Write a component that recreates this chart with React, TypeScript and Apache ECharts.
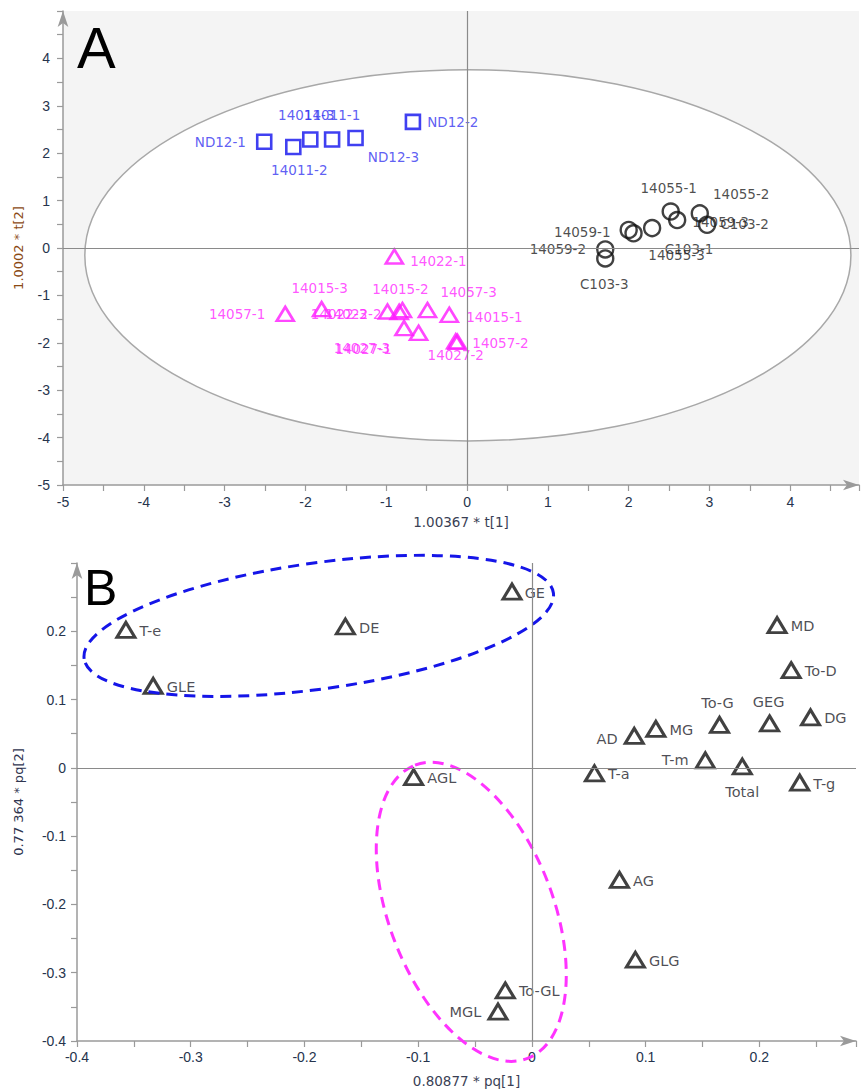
import React, { useEffect, useRef } from 'react';
import * as echarts from 'echarts';

// ---------- Panel A : score plot ----------
const sqNames = ['ND12-1', '14011-2', '14011-3', '14011-1', 'ND12-3', 'ND12-2'];
const sqX = [-2.51, -2.15, -1.94, -1.67, -1.38, -0.67];
const sqY = [2.24, 2.13, 2.29, 2.29, 2.32, 2.66];

const triANames = ['14057-1', '14015-3', '14022-2', '14022-3', '14015-2', '14057-3', '14015-1', '14027-3', '14027-1', '14057-2', '14027-2', '14022-1'];
const triAX = [-2.25, -1.8, -0.985, -0.84, -0.8, -0.49, -0.22, -0.78, -0.6, -0.12, -0.14, -0.9];
const triAY = [-1.39, -1.29, -1.34, -1.35, -1.31, -1.31, -1.41, -1.69, -1.79, -1.98, -1.97, -0.18];

const circNames = ['C103-3', '14059-2', '14059-1', '14055-3', 'C103-1', '14055-1', '14059-3', '14055-2', 'C103-2'];
const circX = [1.71, 1.71, 2.0, 2.06, 2.29, 2.52, 2.6, 2.88, 2.97];
const circY = [-0.22, -0.03, 0.38, 0.31, 0.42, 0.77, 0.59, 0.73, 0.49];

const axisAX = { min: -5, max: 4.85, interval: 1, name: '1.00367 * t[1]' };
const axisAY = { min: -5, max: 5, interval: 1, name: '1.0002 * t[2]' };
// confidence ellipse (data units)
const ellipseA = { cx: 0.01, cy: -0.155, rx: 4.74, ry: 3.915 };

// ---------- Panel B : loading plot ----------
const loadNames = ['T-e', 'GLE', 'DE', 'GE', 'MD', 'To-D', 'DG', 'GEG', 'To-G', 'MG', 'AD', 'T-m', 'Total', 'T-a', 'T-g', 'AGL', 'AG', 'GLG', 'To-GL', 'MGL'];
const loadX = [-0.357, -0.333, -0.164, -0.0175, 0.2156, 0.228, 0.245, 0.209, 0.165, 0.109, 0.09, 0.1525, 0.185, 0.055, 0.2355, -0.104, 0.077, 0.091, -0.0234, -0.0298];
const loadY = [0.202, 0.12, 0.207, 0.258, 0.209, 0.143, 0.074, 0.065, 0.063, 0.057, 0.047, 0.011, 0.002, -0.008, -0.0215, -0.0136, -0.164, -0.281, -0.326, -0.357];

const axisBX = { min: -0.4, max: 0.285, interval: 0.1, name: '0.80877 * pq[1]' };
const axisBY = { min: -0.4, max: 0.3, interval: 0.1, name: '0.77 364 * pq[2]' };
// group ellipses: centres in data units
const blueCenter = [-0.1874, 0.2079];
const pinkCenter = [-0.0533, -0.2108];

// ---------- label placement (style) ----------
type Place = [string, number, number, number];
const place: Record<string, Place> = {
  'ND12-1': ['left', 10, 0, 0],
  '14011-2': ['bottom', 8, 6, 0],
  '14011-3': ['top', 9, -4, 0],
  '14011-1': ['top', 9, 0, 0],
  'ND12-3': ['right', 4, 0, 19],
  'ND12-2': ['right', 6, 0, 0],
  '14057-1': ['left', 10, 0, 0],
  '14015-3': ['top', 6, -2, 0],
  '14022-2': ['left', 0, 4, 2],
  '14022-3': ['left', 22, 0, 2],
  '14015-2': ['top', 6, -2, 0],
  '14057-3': ['right', 3, 0, -18],
  '14015-1': ['right', 7, 0, 2],
  '14027-3': ['left', 4, 0, 20],
  '14027-1': ['left', 17, 0, 16],
  '14057-2': ['right', 5, 0, 1],
  '14027-2': ['bottom', -2, 0, 0],
  '14022-1': ['right', 6, 0, 4],
  'C103-3': ['bottom', 9, -1, 0],
  '14059-2': ['left', 10, 0, 0],
  '14059-1': ['left', 9, 0, 2],
  '14055-3': ['bottom', 5, 43, 0],
  'C103-1': ['bottom', 5, 37, 0],
  '14055-1': ['top', 7, -2, 0],
  '14059-3': ['right', 6, 0, 2],
  '14055-2': ['right', 4, 0, -19],
  'C103-2': ['right', 4, 0, -1],
  'T-e': ['right', 3, 0, 1],
  'GLE': ['right', 3, 0, 1],
  'DE': ['right', 3, 0, 1],
  'GE': ['right', 2, 0, 1],
  'MD': ['right', 3, 0, 1],
  'To-D': ['right', 3, 0, 1],
  'DG': ['right', 3, 0, 1],
  'GEG': ['top', 5, -1, 0],
  'To-G': ['top', 5, -2, 0],
  'MG': ['right', 3, 0, 1],
  'AD': ['left', 6, 0, 3],
  'T-m': ['left', 6, 0, 0],
  'Total': ['bottom', 9, 0, 0],
  'T-a': ['right', 3, 0, 1],
  'T-g': ['right', 3, 0, 1],
  'AGL': ['right', 3, 0, 1],
  'AG': ['right', 3, 0, 1],
  'GLG': ['right', 3, 0, 1],
  'To-GL': ['right', 3, 0, 1],
  'MGL': ['left', 6, 0, 0],
};

const build = (names: string[], xs: number[], ys: number[]) =>
  names.map((n, i) => {
    const p = place[n];
    return {
      name: n,
      value: [xs[i], ys[i]],
      label: p ? { position: p[0], distance: p[1], offset: [p[2], p[3]] } : undefined,
    };
  });

const FONT = 'DejaVu Sans';
const axisGray = '#9a9a9a';
const tickColor = '#26344d';

function makeAxis(cfg: any, gridIndex: number, extra: any) {
  return {
    type: 'value',
    gridIndex,
    min: cfg.min,
    max: cfg.max,
    interval: cfg.interval,
    name: cfg.name,
    nameLocation: 'middle',
    axisLine: {
      show: true,
      onZero: false,
      symbol: ['none', 'arrow'],
      symbolSize: [8, 16],
      lineStyle: { color: axisGray, width: 1.5 },
    },
    axisTick: { show: true, length: 6, lineStyle: { color: axisGray, width: 1.2 } },
    minorTick: { show: true, splitNumber: 2, length: 6, lineStyle: { color: axisGray, width: 1.2 } },
    splitLine: { show: false },
    minorSplitLine: { show: false },
    axisLabel: {
      color: tickColor,
      fontFamily: 'Liberation Sans',
      fontSize: 14,
      showMaxLabel: false,
      showMinLabel: true,
    },
    ...extra,
  };
}

const zeroLines = {
  silent: true,
  symbol: ['none', 'none'],
  label: { show: false },
  lineStyle: { color: '#8a8a8a', width: 1.2, type: 'solid' },
  data: [{ xAxis: 0 }, { yAxis: 0 }],
};

export default function App() {
  const ref = useRef<HTMLDivElement>(null);
  useEffect(() => {
    if (!ref.current) return;
    const chart = echarts.init(ref.current, null, { renderer: 'svg' });
    const option: any = {
      animation: false,
      backgroundColor: '#ffffff',
      grid: [
        { left: 63, top: 11, width: 796, height: 474, show: true, backgroundColor: '#f4f4f4', borderWidth: 0 },
        { left: 77, top: 563, width: 779, height: 478, show: false },
      ],
      xAxis: [
        makeAxis(axisAX, 0, {
          nameGap: 30,
          nameTextStyle: { color: '#3a3f55', fontFamily: FONT, fontSize: 13.5 },
          axisLabel: { color: tickColor, fontFamily: 'Liberation Sans', fontSize: 14, showMaxLabel: false, margin: 10 },
        }),
        makeAxis(axisBX, 1, {
          nameGap: 33,
          nameTextStyle: { color: '#3a3f55', fontFamily: FONT, fontSize: 13.5 },
          axisLabel: { color: tickColor, fontFamily: 'Liberation Sans', fontSize: 14, showMaxLabel: false, margin: 9 },
        }),
      ],
      yAxis: [
        makeAxis(axisAY, 0, {
          nameGap: 38,
          nameTextStyle: { color: '#8b4a14', fontFamily: FONT, fontSize: 13 },
          axisLabel: { color: tickColor, fontFamily: 'Liberation Sans', fontSize: 14, showMaxLabel: false, margin: 13 },
        }),
        makeAxis(axisBY, 1, {
          nameGap: 52,
          nameTextStyle: { color: '#2f3550', fontFamily: FONT, fontSize: 13 },
          axisLabel: { color: tickColor, fontFamily: 'Liberation Sans', fontSize: 14, showMaxLabel: false, margin: 11 },
        }),
      ],
      series: [
        {
          type: 'scatter',
          xAxisIndex: 0,
          yAxisIndex: 0,
          symbol: 'rect',
          symbolSize: 14,
          itemStyle: { color: 'rgba(0,0,0,0)', borderColor: '#1010ee', borderWidth: 2.6 },
          label: { show: true, formatter: '{b}', color: '#3535f0', fontFamily: FONT, fontSize: 13.5 },
          data: build(sqNames, sqX, sqY),
          markLine: zeroLines,
          z: 3,
        },
        {
          type: 'scatter',
          xAxisIndex: 0,
          yAxisIndex: 0,
          symbol: 'triangle',
          symbolSize: [17, 14],
          itemStyle: { color: 'rgba(0,0,0,0)', borderColor: '#ff1aff', borderWidth: 2.6 },
          label: { show: true, formatter: '{b}', color: '#ff2aff', fontFamily: FONT, fontSize: 13.5 },
          data: build(triANames, triAX, triAY),
          z: 3,
        },
        {
          type: 'scatter',
          xAxisIndex: 0,
          yAxisIndex: 0,
          symbol: 'circle',
          symbolSize: 16,
          itemStyle: { color: 'rgba(0,0,0,0)', borderColor: '#111', borderWidth: 2.4 },
          label: { show: true, formatter: '{b}', color: '#1e1e1e', fontFamily: FONT, fontSize: 13.5 },
          data: build(circNames, circX, circY),
          z: 3,
        },
        {
          type: 'scatter',
          xAxisIndex: 1,
          yAxisIndex: 1,
          symbol: 'triangle',
          symbolSize: [18, 15],
          itemStyle: { color: 'rgba(0,0,0,0)', borderColor: '#111', borderWidth: 3 },
          label: { show: true, formatter: '{b}', color: '#1e1e2a', fontFamily: FONT, fontSize: 14.5 },
          data: build(loadNames, loadX, loadY),
          markLine: zeroLines,
          z: 3,
        },
      ],
    };
    chart.setOption(option);

    const px = (gi: number, x: number, y: number) => chart.convertToPixel({ gridIndex: gi } as any, [x, y]) as number[];
    const c0 = px(0, ellipseA.cx, ellipseA.cy);
    const cx1 = px(0, ellipseA.cx + ellipseA.rx, ellipseA.cy);
    const cy1 = px(0, ellipseA.cx, ellipseA.cy + ellipseA.ry);
    const bc = px(1, blueCenter[0], blueCenter[1]);
    const pc = px(1, pinkCenter[0], pinkCenter[1]);
    const deg = Math.PI / 180;

    chart.setOption({
      graphic: [
        {
          type: 'ellipse',
          silent: true,
          z: 1,
          shape: { cx: c0[0], cy: c0[1], rx: cx1[0] - c0[0], ry: c0[1] - cy1[1] },
          style: { fill: '#ffffff', stroke: '#a8a8a8', lineWidth: 1.5 },
        },
        {
          type: 'ellipse',
          silent: true,
          z: 4,
          x: bc[0],
          y: bc[1],
          rotation: 8 * deg,
          shape: { cx: 0, cy: 0, rx: 237, ry: 63 },
          style: { fill: 'none', stroke: '#1515e8', lineWidth: 3, lineDash: [11, 7] },
        },
        {
          type: 'ellipse',
          silent: true,
          z: 4,
          x: pc[0],
          y: pc[1],
          rotation: -69 * deg,
          shape: { cx: 0, cy: 0, rx: 157, ry: 82 },
          style: { fill: 'none', stroke: '#ff33ff', lineWidth: 3, lineDash: [11, 7] },
        },
        {
          type: 'text',
          z: 5,
          x: 77,
          y: 18,
          style: { text: 'A', fontFamily: 'Liberation Sans', fontSize: 58, fill: '#000' },
        },
        {
          type: 'text',
          z: 5,
          x: 84,
          y: 563,
          style: { text: 'B', fontFamily: 'Liberation Sans', fontSize: 50, fill: '#000' },
        },
      ],
    });

    return () => chart.dispose();
  }, []);
  return <div ref={ref} style={{ position: 'absolute', left: 0, top: 0, width: 861, height: 1092 }} />;
}
